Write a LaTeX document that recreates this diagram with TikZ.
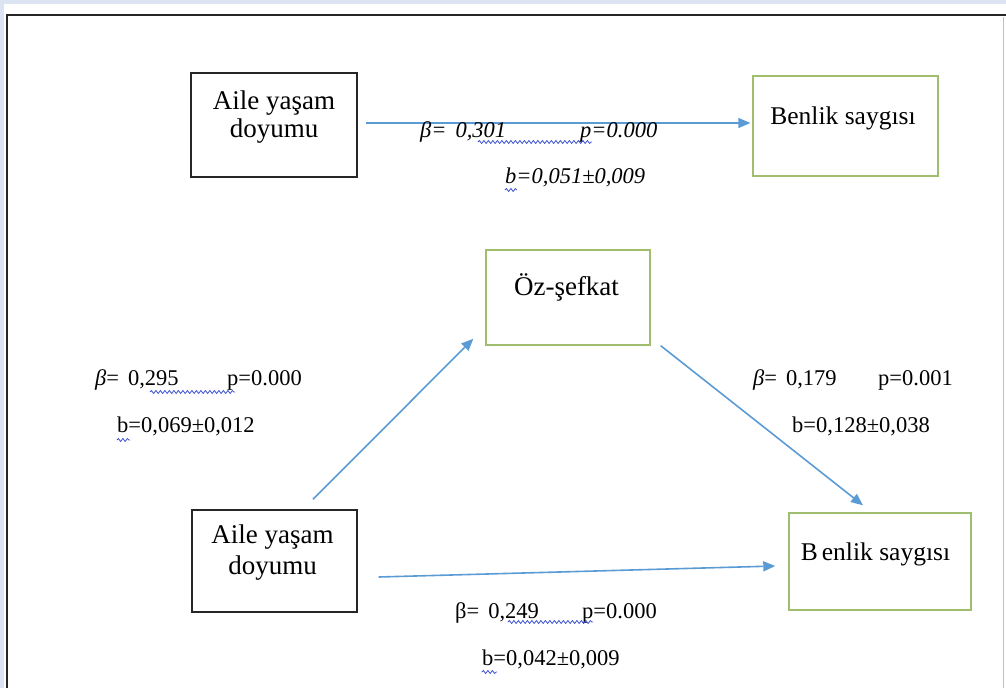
\documentclass[tikz,border=0pt]{standalone}
\usepackage{fontspec}
\setmainfont{Liberation Serif}
\usetikzlibrary{arrows.meta,decorations.pathmorphing}
\definecolor{arr}{RGB}{91,155,213}
\definecolor{grn}{RGB}{160,190,110}
\definecolor{lav}{RGB}{220,227,242}
\definecolor{sq}{RGB}{60,80,210}
\begin{document}
\begin{tikzpicture}[x=1pt,y=-1pt,
 blackbox/.style={draw=black!85, line width=1.4pt, inner sep=0pt},
 greenbox/.style={draw=grn, line width=1.4pt, inner sep=0pt},
 boxtxt/.style={font=\fontsize{27}{28}\selectfont, anchor=base, inner sep=0pt},
 boxtxts/.style={font=\fontsize{25.5}{28}\selectfont, anchor=base, inner sep=0pt},
 lbl/.style={font=\fontsize{22.5}{26}\selectfont, anchor=base west, inner sep=0pt},
 conn/.style={draw=arr, line width=1.6pt, -{Triangle[length=12pt,width=10pt]}},
 squig/.style={draw=sq, line width=0.8pt, decorate, decoration={snake, segment length=4.5pt, amplitude=1.5pt}}]

\useasboundingbox (0,0) rectangle (1006,688);
\fill[lav] (0,0) rectangle (1006,4);
\fill[lav] (0,0) rectangle (4,688);
\draw[line width=1.8pt, black!85] (7,688) -- (7,15) -- (1006,15);
\draw[line width=0.8pt, black!25] (1003,17) -- (1003,688);

% boxes
\node[blackbox, minimum width=166pt, minimum height=104pt] (a1) at (274,125) {};
\node[greenbox, minimum width=185pt, minimum height=100pt] (b1) at (845.5,126) {};
\node[greenbox, minimum width=164pt, minimum height=95pt] (oz) at (568,297.5) {};
\node[blackbox, minimum width=165pt, minimum height=102pt] (a2) at (274.5,561) {};
\node[greenbox, minimum width=182pt, minimum height=97pt] (b2) at (880,561.5) {};

% box texts
\node[boxtxt] (a1t1) at (274,109) {Aile yaşam};
\node[boxtxt] (a1t2) at (274,137) {doyumu};
\node[boxtxts] (b1t) at (843,124) {Benlik saygısı};
\node[boxtxt] (ozt) at (566.5,295) {Öz-şefkat};
\node[boxtxt] (a2t1) at (272.5,543) {Aile yaşam};
\node[boxtxt] (a2t2) at (272.5,574) {doyumu};
\node[boxtxts] (b2t) at (875.5,560) {B\hspace{4pt}enlik saygısı};

% connectors
\draw[conn] ([shift={(8,-2)}]a1.east) -- ([shift={(-2,-3)}]b1.west);
\draw[conn] ([shift={(38.5,-10)}]a2.north) -- ([shift={(-12,-7)}]oz.south west);
\draw[conn] ([shift={(10,0)}]oz.south east) -- ([shift={(-17,-7)}]b2.north);
\draw[conn] ([shift={(21,16)}]a2.east) -- ([shift={(-13,4.5)}]b2.west);

% top labels
\node[lbl, font=\fontsize{22.5}{26}\selectfont\itshape] (l1b) at (420,137) {β=\hspace{9pt}0,301};
\node[lbl, font=\fontsize{22.5}{26}\selectfont\itshape] (l1p) at (580,137) {p=0.000};
\node[lbl, font=\fontsize{22.5}{26}\selectfont\itshape] (l1c) at (505,183) {b=0,051±0,009};
\draw[squig] (478,142) -- (592,142);
\draw[squig] (505,190) -- (517,190);

% left labels
\node[lbl] (l2b) at (95,385) {\textit{β}=\hspace{9pt}0,295};
\node[lbl] (l2p) at (227,385) {p=0.000};
\node[lbl] (l2c) at (117,432) {b=0,069±0,012};
\draw[squig] (150,392) -- (235,392);
\draw[squig] (117,440) -- (130,440);

% right labels
\node[lbl] (l3b) at (753,385) {\textit{β}=\hspace{9pt}0,179};
\node[lbl] (l3p) at (878,385) {p=0.001};
\node[lbl] (l3c) at (792,432) {b=0,128±0,038};

% bottom labels
\node[lbl] (l4b) at (455,618) {β=\hspace{9pt}0,249};
\node[lbl] (l4p) at (582,618) {p=0.000};
\node[lbl] (l4c) at (482,665) {b=0,042±0,009};
\draw[squig] (508,622) -- (593,622);
\draw[squig] (482,672) -- (497,672);
\end{tikzpicture}
\end{document}
